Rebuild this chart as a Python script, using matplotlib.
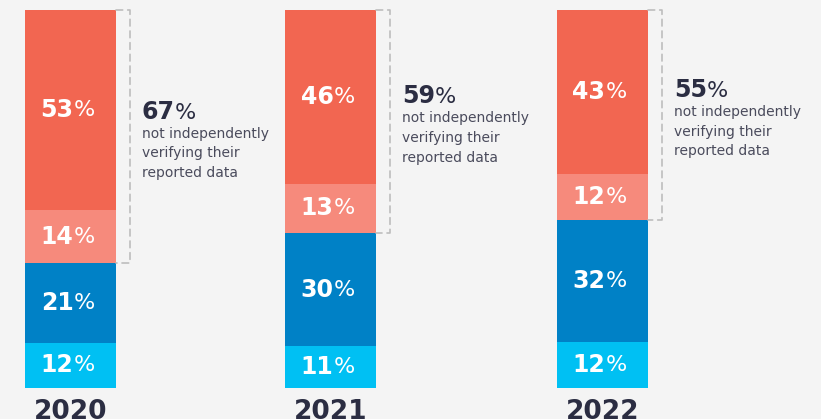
import numpy as np
import matplotlib.pyplot as plt
from matplotlib.path import Path
from matplotlib.patches import PathPatch

years = ["2020", "2021", "2022"]
light_blue = [12, 11, 12]
blue = [21, 30, 32]
salmon = [14, 13, 12]
red = [53, 46, 43]
not_verifying = [67, 59, 55]
note = "not independently\nverifying their\nreported data"

colors = ["#00C0F3", "#0081C6", "#F68A7C", "#F26651"]
BG = "#F4F4F4"
DARK = "#2B2D42"
GREY = "#4A4B5C"
PX = 72 / 100  # points per pixel

x = np.array([0.0, 1.0, 2.046])
width = 0.35

fig = plt.figure(figsize=(8.21, 4.19), dpi=100, facecolor=BG)
ax = fig.add_axes([0, 0, 1, 1], facecolor=BG)
ax.set_xlim(-0.271, 2.887)
ax.set_ylim(-8.2, 102.6)
ax.axis("off")

series = [light_blue, blue, salmon, red]
totals = np.sum(np.array(series, dtype=float), axis=0)
scale = 100 / totals  # bars fill the same height, as in the original

bottom = np.zeros(3)
for vals, col in zip(series, colors):
    vals = np.array(vals, dtype=float)
    h = vals * scale
    ax.bar(x, h, width, bottom=bottom, color=col, linewidth=0)
    for xi, b, hh, v in zip(x, bottom, h, vals):
        yc = b + hh / 2
        ax.annotate(f"{int(v)}", (xi, yc), xytext=(3 * PX, 0), textcoords="offset points",
                    ha="right", va="center", color="white", fontsize=17, fontweight="bold")
        ax.annotate("%", (xi, yc), xytext=(3 * PX, 0), textcoords="offset points",
                    ha="left", va="center", color="white", fontsize=16)
    bottom = bottom + h

# year labels
for xi, yr in zip(x, years):
    ax.annotate(yr, (xi, 0), xytext=(0, -11 * PX), textcoords="offset points",
                ha="center", va="top", color=DARK, fontsize=19, fontweight="bold")

# dashed brackets + notes
base = (np.array(light_blue) + np.array(blue)) * scale
top = bottom
px_x = 1 / 260
for i in range(3):
    right = x[i] + width / 2
    bx = right + 14 * px_x
    y0, y1 = base[i], top[i]
    verts = [(right, y1), (bx, y1), (bx, y0), (right, y0)]
    path = Path(verts, [Path.MOVETO, Path.LINETO, Path.LINETO, Path.LINETO])
    ax.add_patch(PathPatch(path, fill=False, edgecolor="#BDBDBD", linewidth=1.2,
                           linestyle=(0, (4, 3)), joinstyle="round", capstyle="round"))
    mid = (y0 + y1) / 2
    ax.annotate(f"{not_verifying[i]}", (bx, mid), xytext=(12 * PX, 18 * PX), textcoords="offset points",
                ha="left", va="baseline", color=DARK, fontsize=17, fontweight="bold")
    ax.annotate("%", (bx, mid), xytext=(12 * PX + 33 * PX, 18 * PX), textcoords="offset points",
                ha="left", va="baseline", color=DARK, fontsize=16)
    ax.annotate(note, (bx, mid), xytext=(12 * PX, 10 * PX), textcoords="offset points",
                ha="left", va="top", color=GREY, fontsize=10, linespacing=1.52)

fig.savefig("out.png", dpi=100, facecolor=BG)
